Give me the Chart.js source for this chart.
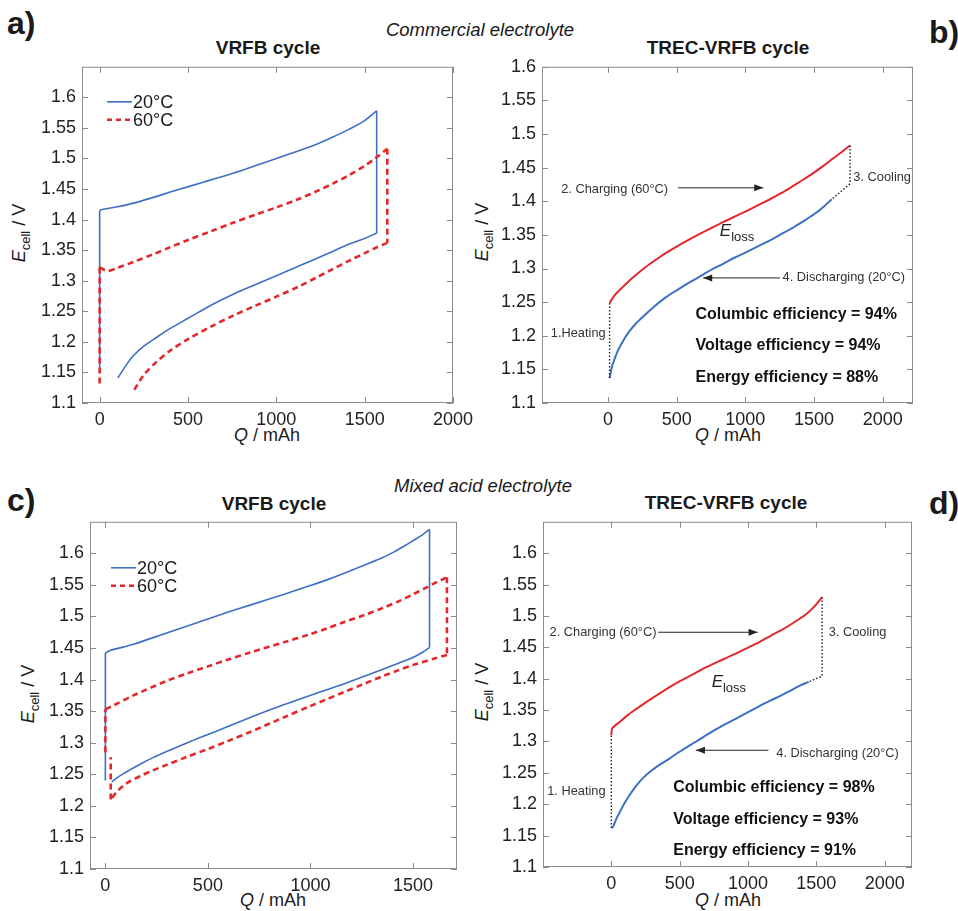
<!DOCTYPE html>
<html>
<head>
<meta charset="utf-8">
<script src="https://cdn.jsdelivr.net/npm/chart.js@4.4.1/dist/chart.umd.min.js"></script>
<style>
  body { margin: 0; width: 958px; height: 911px; position: relative; background: #fff; overflow: hidden;
         font-family: "Liberation Sans", Arial, Helvetica, sans-serif; color: #1a1a1a; }
  canvas { position: absolute; }
  .t { position: absolute; white-space: nowrap; line-height: 1; transform: translate(-50%, -50%); }
  .letter { position: absolute; font-weight: bold; font-size: 32px; line-height: 1; }
  .title { font-weight: bold; font-size: 19px; }
  .elec { font-style: italic; font-size: 18.5px; }
  .xt { font-size: 18px; }
  .yt { font-size: 18px; transform: translate(-50%, -50%) rotate(-90deg); }
  .yt span { position: relative; top: 5px; font-size: 13px; }
</style>
</head>
<body>

<div class="letter" style="left:7px;top:7px">a)</div>
<div class="letter" style="left:929px;top:16px">b)</div>
<div class="letter" style="left:7px;top:484px">c)</div>
<div class="letter" style="left:929px;top:487px">d)</div>

<div class="t elec" style="left:480px;top:30px">Commercial electrolyte</div>
<div class="t elec" style="left:483px;top:486px">Mixed acid electrolyte</div>

<div class="t title" style="left:268px;top:47px">VRFB cycle</div>
<div class="t title" style="left:728px;top:47px">TREC-VRFB cycle</div>
<div class="t title" style="left:274px;top:503px">VRFB cycle</div>
<div class="t title" style="left:726px;top:502px">TREC-VRFB cycle</div>

<div class="t xt" style="left:267px;top:435px"><i>Q</i> / mAh</div>
<div class="t xt" style="left:728px;top:435px"><i>Q</i> / mAh</div>
<div class="t xt" style="left:273px;top:900px"><i>Q</i> / mAh</div>
<div class="t xt" style="left:728px;top:900px"><i>Q</i> / mAh</div>

<div class="t yt" style="left:19px;top:233px"><i>E</i><span>cell</span> / V</div>
<div class="t yt" style="left:482px;top:232px"><i>E</i><span>cell</span> / V</div>
<div class="t yt" style="left:28px;top:694px"><i>E</i><span>cell</span> / V</div>
<div class="t yt" style="left:482px;top:692px"><i>E</i><span>cell</span> / V</div>

<script>
// ---- tick labels
const X_TICKS = [0, 500, 1000, 1500, 2000];
const X_TICKS_C = [0, 500, 1000, 1500];
const Y_TICKS = [1.1, 1.15, 1.2, 1.25, 1.3, 1.35, 1.4, 1.45, 1.5, 1.55, 1.6];

// ---- a) commercial electrolyte, VRFB cycle (20 °C and 60 °C)
const Q_A20_REST = [0, 0];
const E_A20_REST = [1.155, 1.415];
const Q_A20_CH = [0, 20, 100, 193, 300, 400, 503, 630, 756, 880, 1000, 1120, 1225, 1320, 1413, 1500, 1568];
const E_A20_CH = [1.415, 1.417, 1.421, 1.427, 1.436, 1.445, 1.454, 1.465, 1.476, 1.488, 1.500, 1.512, 1.523, 1.535, 1.548, 1.562, 1.578];
const Q_A20_DIS = [1568, 1506, 1413, 1319, 1225, 1131, 1000, 880, 756, 630, 503, 400, 325, 250, 193, 150, 103];
const E_A20_DIS = [1.378, 1.370, 1.360, 1.348, 1.336, 1.3245, 1.308, 1.2935, 1.278, 1.260, 1.239, 1.222, 1.208, 1.193, 1.178, 1.162, 1.141];

const Q_A60_REST = [0, 0];
const E_A60_REST = [1.132, 1.322];
const Q_A60_CH = [0, 43, 100, 193, 300, 400, 503, 630, 756, 880, 1000, 1120, 1225, 1320, 1413, 1500, 1563, 1628];
const E_A60_CH = [1.322, 1.316, 1.321, 1.331, 1.343, 1.355, 1.367, 1.381, 1.395, 1.408, 1.420, 1.433, 1.446, 1.459, 1.473, 1.488, 1.501, 1.516];
const Q_A60_DIS = [1628, 1563, 1506, 1413, 1319, 1225, 1131, 1000, 880, 756, 630, 503, 400, 325, 250, 193];
const E_A60_DIS = [1.362, 1.354, 1.346, 1.333, 1.319, 1.305, 1.291, 1.274, 1.259, 1.243, 1.225, 1.205, 1.186, 1.168, 1.146, 1.120];

// ---- b) commercial electrolyte, TREC-VRFB cycle
const Q_B_CHARGE = [12, 40, 85, 140, 207, 280, 352, 420, 503, 600, 693, 760, 838, 920, 1004, 1090, 1179, 1260, 1349, 1420, 1502, 1570, 1640, 1700, 1762];
const E_B_CHARGE = [1.249, 1.258, 1.268, 1.279, 1.291, 1.303, 1.3135, 1.323, 1.333, 1.344, 1.354, 1.361, 1.369, 1.377, 1.385, 1.394, 1.403, 1.412, 1.423, 1.432, 1.443, 1.453, 1.464, 1.473, 1.483];
const Q_B_COOL = [1762, 1762, 1628];
const E_B_COOL = [1.483, 1.426, 1.403];
const Q_B_DISCH = [1628, 1570, 1502, 1420, 1349, 1260, 1179, 1090, 1004, 920, 838, 760, 693, 600, 503, 420, 352, 280, 207, 150, 109, 75, 49, 28, 12];
const E_B_DISCH = [1.403, 1.392, 1.381, 1.370, 1.361, 1.351, 1.342, 1.333, 1.324, 1.316, 1.307, 1.299, 1.291, 1.280, 1.268, 1.257, 1.246, 1.233, 1.219, 1.205, 1.192, 1.179, 1.166, 1.153, 1.137];
const Q_B_HEAT = [12, 12];
const E_B_HEAT = [1.137, 1.249];

// ---- c) mixed acid electrolyte, VRFB cycle
const Q_C20_REST = [0, 0];
const E_C20_REST = [1.240, 1.442];
const Q_C20_CH = [0, 23, 137, 299, 400, 500, 600, 706, 869, 999, 1080, 1162, 1276, 1350, 1406, 1460, 1500, 1545, 1581];
const E_C20_CH = [1.442, 1.446, 1.456, 1.474, 1.485, 1.496, 1.507, 1.518, 1.535, 1.549, 1.558, 1.568, 1.583, 1.593, 1.602, 1.612, 1.620, 1.629, 1.638];
const Q_C20_DIS = [1581, 1545, 1500, 1430, 1357, 1260, 1162, 1080, 999, 869, 706, 600, 500, 400, 299, 230, 169, 120, 88, 55, 31];
const E_C20_DIS = [1.451, 1.443, 1.435, 1.426, 1.417, 1.405, 1.393, 1.384, 1.375, 1.360, 1.340, 1.326, 1.313, 1.300, 1.286, 1.276, 1.266, 1.257, 1.251, 1.244, 1.238];

const Q_C60_REST = [0, 0];
const E_C60_REST = [1.285, 1.353];
const Q_C60_CH = [0, 39, 137, 299, 400, 500, 600, 706, 869, 999, 1080, 1162, 1260, 1357, 1430, 1500, 1560, 1601, 1666];
const E_C60_CH = [1.353, 1.359, 1.375, 1.398, 1.410, 1.421, 1.432, 1.443, 1.459, 1.472, 1.481, 1.491, 1.502, 1.514, 1.524, 1.535, 1.545, 1.552, 1.562];
const Q_C60_DIS = [1666, 1601, 1500, 1430, 1357, 1260, 1162, 1080, 999, 869, 706, 600, 500, 400, 299, 230, 169, 120, 88, 55, 26];
const E_C60_DIS = [1.439, 1.433, 1.423, 1.415, 1.406, 1.393, 1.380, 1.369, 1.358, 1.340, 1.317, 1.303, 1.290, 1.278, 1.265, 1.256, 1.247, 1.239, 1.232, 1.222, 1.210];
const Q_C60_REST2 = [26, 26];
const E_C60_REST2 = [1.210, 1.277];

// ---- d) mixed acid electrolyte, TREC-VRFB cycle
const Q_D_CHARGE = [0, 7, 61, 120, 184, 250, 306, 400, 502, 590, 673, 820, 910, 1004, 1080, 1163, 1240, 1310, 1380, 1432, 1490, 1542];
const E_D_CHARGE = [1.310, 1.321, 1.331, 1.342, 1.352, 1.362, 1.370, 1.383, 1.396, 1.406, 1.416, 1.431, 1.440, 1.450, 1.458, 1.468, 1.477, 1.486, 1.496, 1.504, 1.516, 1.530];
const Q_D_COOL = [1542, 1542, 1444];
const E_D_COOL = [1.530, 1.404, 1.395];
const Q_D_DISCH = [1444, 1380, 1310, 1240, 1163, 1080, 1004, 910, 820, 740, 673, 590, 502, 420, 355, 290, 233, 180, 135, 95, 61, 35, 12, 4];
const E_D_DISCH = [1.395, 1.389, 1.381, 1.373, 1.365, 1.356, 1.347, 1.336, 1.326, 1.316, 1.307, 1.296, 1.284, 1.272, 1.263, 1.253, 1.242, 1.229, 1.215, 1.201, 1.187, 1.176, 1.164, 1.162];
const Q_D_HEAT = [0, 0];
const E_D_HEAT = [1.162, 1.310];

const BLUE = '#3d6fc4';
const RED = '#e2282a';
const FONT = '"Liberation Sans", Arial, Helvetica, sans-serif';
const DASH = [6, 4];
const DOT = [1.5, 2];

function pts(q, e) { return q.map((v, i) => ({ x: v, y: e[i] })); }
// straight link between the last point of one run and the first of the next
function link(qa, ea, qb, eb) { return [{ x: qa[qa.length - 1], y: ea[ea.length - 1] }, { x: qb[0], y: eb[0] }]; }

function line(data, color, width, dash, tension) {
  return { data, borderColor: color, borderWidth: width, borderDash: dash || [], showLine: true,
           pointRadius: 0, fill: false, tension: tension || 0, borderCapStyle: 'butt' };
}

function arrowHead(ctx, x1, y1, x2, y2) {
  const ang = Math.atan2(y2 - y1, x2 - x1), len = 9, half = 3.5;
  ctx.beginPath();
  ctx.moveTo(x2, y2);
  ctx.lineTo(x2 - len * Math.cos(ang) + half * Math.sin(ang), y2 - len * Math.sin(ang) - half * Math.cos(ang));
  ctx.lineTo(x2 - len * Math.cos(ang) - half * Math.sin(ang), y2 - len * Math.sin(ang) + half * Math.cos(ang));
  ctx.closePath();
  ctx.fill();
}

function makePanel(p) {
  const [bl, bt, br, bb] = p.box;
  const [pl, pt, pr, pb] = p.plot;
  const c = document.createElement('canvas');
  c.width = br - bl; c.height = bb - bt;
  c.style.left = bl + 'px'; c.style.top = bt + 'px';
  document.body.appendChild(c);

  const extras = {
    id: 'extras',
    afterDatasetsDraw(chart) {
      const { ctx, chartArea: a, scales: { x, y } } = chart;
      ctx.save();
      // box + inward ticks
      ctx.strokeStyle = '#8c8c8c';
      ctx.lineWidth = 1;
      ctx.strokeRect(a.left + 0.5, a.top + 0.5, a.width - 1, a.height - 1);
      ctx.beginPath();
      x.ticks.forEach(t => {
        const px = Math.round(x.getPixelForValue(t.value)) + 0.5;
        ctx.moveTo(px, a.bottom); ctx.lineTo(px, a.bottom - 6);
        ctx.moveTo(px, a.top); ctx.lineTo(px, a.top + 6);
      });
      y.ticks.forEach(t => {
        const py = Math.round(y.getPixelForValue(t.value)) + 0.5;
        ctx.moveTo(a.left, py); ctx.lineTo(a.left + 6, py);
        ctx.moveTo(a.right, py); ctx.lineTo(a.right - 6, py);
      });
      ctx.stroke();

      // legend
      if (p.legend) {
        p.legend.forEach((lab, i) => {
          const ds = chart.data.datasets[p.legendIdx[i]];
          const ly = a.top + p.legendPos[1] + i * 18;
          const lx = a.left + p.legendPos[0];
          ctx.strokeStyle = ds.borderColor;
          ctx.lineWidth = ds.borderWidth;
          ctx.setLineDash(ds.borderDash.length ? [5, 4] : []);
          ctx.beginPath(); ctx.moveTo(lx, ly); ctx.lineTo(lx + 25, ly); ctx.stroke();
          ctx.setLineDash([]);
          ctx.fillStyle = '#1a1a1a';
          ctx.font = '18px ' + FONT;
          ctx.textAlign = 'left'; ctx.textBaseline = 'middle';
          ctx.fillText(lab, lx + 26, ly + 1);
        });
      }

      // annotations
      (p.notes || []).forEach(n => {
        ctx.fillStyle = n.bold ? '#111' : '#333';
        ctx.font = (n.bold ? 'bold 16px ' : '12.8px ') + FONT;
        ctx.textAlign = n.align; ctx.textBaseline = 'middle';
        ctx.fillText(n.text, x.getPixelForValue(n.q), y.getPixelForValue(n.e));
      });
      (p.arrows || []).forEach(r => {
        const x1 = x.getPixelForValue(r[0]), y1 = y.getPixelForValue(r[1]);
        const x2 = x.getPixelForValue(r[2]), y2 = y.getPixelForValue(r[3]);
        ctx.strokeStyle = '#222'; ctx.fillStyle = '#222'; ctx.lineWidth = 1;
        ctx.beginPath(); ctx.moveTo(x1, y1); ctx.lineTo(x2, y2); ctx.stroke();
        arrowHead(ctx, x1, y1, x2, y2);
      });
      if (p.eloss) {
        const ex = x.getPixelForValue(p.eloss[0]), ey = y.getPixelForValue(p.eloss[1]);
        ctx.fillStyle = '#222';
        ctx.textAlign = 'left'; ctx.textBaseline = 'alphabetic';
        ctx.font = 'italic 17px ' + FONT;
        ctx.fillText('E', ex, ey + 6);
        const w = ctx.measureText('E').width;
        ctx.font = '13px ' + FONT;
        ctx.fillText('loss', ex + w, ey + 11);
      }
      ctx.restore();
    }
  };

  new Chart(c, {
    type: 'scatter',
    data: { datasets: p.datasets },
    options: {
      responsive: false,
      animation: false,
      devicePixelRatio: 1,
      layout: { autoPadding: false, padding: { left: 0, top: pt - bt, right: br - pr, bottom: 0 } },
      plugins: { legend: { display: false }, tooltip: { enabled: false } },
      scales: {
        x: {
          type: 'linear', min: p.xr[0], max: p.xr[1],
          grid: { display: false, drawTicks: false }, border: { display: false },
          afterBuildTicks: s => { s.ticks = p.xTicks.map(v => ({ value: v })); },
          afterFit: s => { s.height = bb - pb; },
          ticks: { autoSkip: false, maxRotation: 0, padding: 6, color: '#222',
                   font: { size: 18, family: FONT }, callback: v => String(v) }
        },
        y: {
          type: 'linear', min: p.yr[0], max: p.yr[1],
          grid: { display: false, drawTicks: false }, border: { display: false },
          afterBuildTicks: s => { s.ticks = Y_TICKS.map(v => ({ value: v })); },
          afterFit: s => { s.width = pl - bl; },
          ticks: { autoSkip: false, padding: 6, color: '#222',
                   font: { size: 18, family: FONT }, callback: v => String(+v.toFixed(2)) }
        }
      }
    },
    plugins: [extras]
  });
}

const TEN = 0.3;

makePanel({
  box: [25, 50, 485, 450], plot: [82, 62, 453, 403],
  xr: [-100, 2000], yr: [1.1, 1.65], xTicks: X_TICKS,
  datasets: [
    line(pts(Q_A60_REST, E_A60_REST), RED, 2.6, DASH),
    line(pts(Q_A60_CH, E_A60_CH), RED, 2.6, DASH, TEN),
    line(link(Q_A60_CH, E_A60_CH, Q_A60_DIS, E_A60_DIS), RED, 2.6, DASH),
    line(pts(Q_A60_DIS, E_A60_DIS), RED, 2.6, DASH, TEN),
    line(pts(Q_A20_REST, E_A20_REST), BLUE, 1.6),
    line(pts(Q_A20_CH, E_A20_CH), BLUE, 1.6, null, TEN),
    line(link(Q_A20_CH, E_A20_CH, Q_A20_DIS, E_A20_DIS), BLUE, 1.6),
    line(pts(Q_A20_DIS, E_A20_DIS), BLUE, 1.6, null, TEN)
  ],
  legend: ['20°C', '60°C'], legendIdx: [4, 0], legendPos: [25, 35]
});

makePanel({
  box: [485, 50, 945, 450], plot: [542, 62, 913, 403],
  xr: [-480, 2220], yr: [1.1, 1.6], xTicks: X_TICKS,
  datasets: [
    line(pts(Q_B_HEAT, E_B_HEAT), '#222', 1.4, DOT),
    line(pts(Q_B_COOL, E_B_COOL), '#222', 1.4, DOT),
    line(pts(Q_B_CHARGE, E_B_CHARGE), RED, 2, null, TEN),
    line(pts(Q_B_DISCH, E_B_DISCH), BLUE, 2, null, TEN)
  ],
  notes: [
    { text: '2. Charging (60°C)', q: 437, e: 1.418, align: 'right' },
    { text: '3. Cooling', q: 1786, e: 1.435, align: 'left' },
    { text: '4. Discharging (20°C)', q: 1271, e: 1.287, align: 'left' },
    { text: '1.Heating', q: -17, e: 1.203, align: 'right' },
    { text: 'Columbic efficiency = 94%', q: 637, e: 1.232, align: 'left', bold: true },
    { text: 'Voltage efficiency = 94%', q: 637, e: 1.186, align: 'left', bold: true },
    { text: 'Energy efficiency = 88%', q: 637, e: 1.138, align: 'left', bold: true }
  ],
  arrows: [[510, 1.420, 1130, 1.420], [1251, 1.286, 693, 1.286]],
  eloss: [814, 1.357]
});

makePanel({
  box: [25, 505, 485, 905], plot: [90, 519, 457, 869],
  xr: [-75, 1715], yr: [1.1, 1.65], xTicks: X_TICKS_C,
  datasets: [
    line(pts(Q_C60_REST, E_C60_REST), RED, 2.6, DASH),
    line(pts(Q_C60_CH, E_C60_CH), RED, 2.6, DASH, TEN),
    line(link(Q_C60_CH, E_C60_CH, Q_C60_DIS, E_C60_DIS), RED, 2.6, DASH),
    line(pts(Q_C60_DIS, E_C60_DIS), RED, 2.6, DASH, TEN),
    line(pts(Q_C60_REST2, E_C60_REST2), RED, 2.6, DASH),
    line(pts(Q_C20_REST, E_C20_REST), BLUE, 1.6),
    line(pts(Q_C20_CH, E_C20_CH), BLUE, 1.6, null, TEN),
    line(link(Q_C20_CH, E_C20_CH, Q_C20_DIS, E_C20_DIS), BLUE, 1.6),
    line(pts(Q_C20_DIS, E_C20_DIS), BLUE, 1.6, null, TEN)
  ],
  legend: ['20°C', '60°C'], legendIdx: [5, 0], legendPos: [21, 46]
});

makePanel({
  box: [485, 505, 945, 905], plot: [543, 517, 912, 867],
  xr: [-500, 2200], yr: [1.1, 1.65], xTicks: X_TICKS,
  datasets: [
    line(pts(Q_D_HEAT, E_D_HEAT), '#222', 1.4, DOT),
    line(pts(Q_D_COOL, E_D_COOL), '#222', 1.4, DOT),
    line(pts(Q_D_CHARGE, E_D_CHARGE), RED, 2, null, TEN),
    line(pts(Q_D_DISCH, E_D_DISCH), BLUE, 2, null, TEN)
  ],
  notes: [
    { text: '2. Charging (60°C)', q: 330, e: 1.474, align: 'right' },
    { text: '3. Cooling', q: 1591, e: 1.474, align: 'left' },
    { text: '4. Discharging (20°C)', q: 1207, e: 1.281, align: 'left' },
    { text: '1. Heating', q: -42, e: 1.220, align: 'right' },
    { text: 'Columbic efficiency = 98%', q: 453, e: 1.226, align: 'left', bold: true },
    { text: 'Voltage efficiency = 93%', q: 453, e: 1.176, align: 'left', bold: true },
    { text: 'Energy efficiency = 91%', q: 453, e: 1.126, align: 'left', bold: true }
  ],
  arrows: [[343, 1.474, 1070, 1.474], [1150, 1.286, 619, 1.286]],
  eloss: [734, 1.396]
});
</script>
</body>
</html>
